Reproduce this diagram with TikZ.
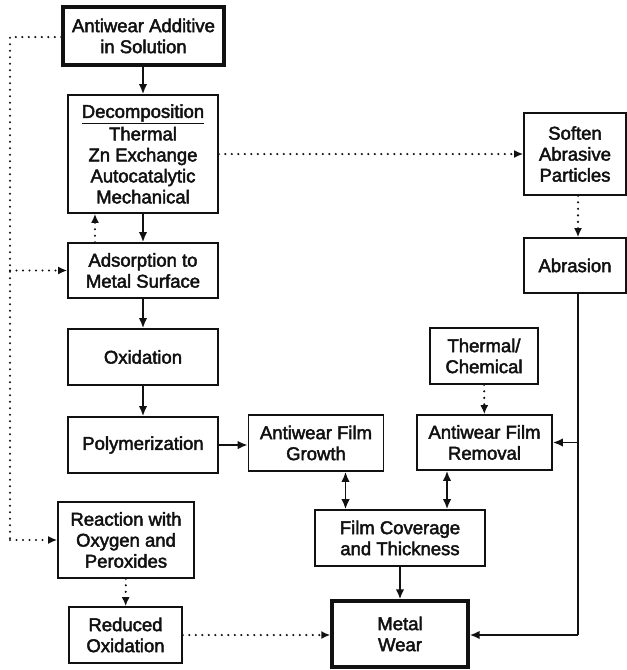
\documentclass[tikz,border=0pt]{standalone}
\usepackage{fontspec}
\setmainfont{Liberation Sans}[BoldFont=Liberation Sans, BoldFeatures={FakeBold=2.4}]
\usepackage{xcolor}
\usetikzlibrary{arrows.meta}
\definecolor{vblack}{HTML}{111111}

\tikzset{
	vbox/.style={draw=vblack, line width=1.6pt, align=center, inner sep=1pt, text=vblack, font=\fontsize{18.5}{21}\selectfont\bfseries},
	vheavy/.style={vbox, line width=3.4pt},
	vsolid/.style={color=vblack, line width=1.9pt, -{Latex[length=10pt,width=8.5pt]}},
	vboth/.style={color=vblack, line width=1.9pt, {Latex[length=10pt,width=8.5pt]}-{Latex[length=10pt,width=8.5pt]}},
	vline/.style={color=vblack, line width=1.9pt},
	vdot/.style={color=vblack, line width=2.4pt, line cap=round, dash pattern=on 0pt off 6.5pt, -{Latex[length=9pt,width=8pt]}},
	vdotline/.style={color=vblack, line width=2.4pt, line cap=round, dash pattern=on 0pt off 6.5pt},
}

\begin{document}
\begin{tikzpicture}[x=1pt, y=-1pt]
		\useasboundingbox (0,0) rectangle (627,670);
		\node[vheavy, minimum width=161pt, minimum height=58pt] (add) at (143.5,36) {Antiwear Additive\\in Solution};
		\node[vbox, minimum width=150pt, minimum height=118pt] (dec) at (143,154) {\underline{Decomposition}\\[1.5pt]Thermal\\Zn Exchange\\Autocatalytic\\Mechanical};
		\node[vbox, minimum width=150pt, minimum height=55pt] (ads) at (143,270.5) {Adsorption to\\Metal Surface};
		\node[vbox, minimum width=150pt, minimum height=56pt] (oxi) at (143,357) {Oxidation};
		\node[vbox, minimum width=150pt, minimum height=56pt] (pol) at (143,445) {Polymerization};
		\node[vbox, minimum width=135pt, minimum height=56pt] (gro) at (316,443) {Antiwear Film\\Growth};
		\node[vbox, minimum width=136pt, minimum height=76pt] (rea) at (126,540) {Reaction with\\Oxygen and\\Peroxides};
		\node[vbox, minimum width=113pt, minimum height=56pt] (red) at (125.5,635) {Reduced\\Oxidation};
		\node[vbox, minimum width=108pt, minimum height=56pt] (the) at (484,356) {Thermal/\\Chemical};
		\node[vbox, minimum width=135pt, minimum height=55pt] (rem) at (484.5,442.5) {Antiwear Film\\Removal};
		\node[vbox, minimum width=170pt, minimum height=56pt] (cov) at (400,538) {Film Coverage\\and Thickness};
		\node[vheavy, minimum width=136pt, minimum height=66pt] (wea) at (400,634) {Metal\\Wear};
		\node[vbox, minimum width=102pt, minimum height=82pt] (sof) at (575,154) {Soften\\Abrasive\\Particles};
		\node[vbox, minimum width=102pt, minimum height=55pt] (abr) at (575,265.5) {Abrasion};
		\coordinate (lt) at (10,37);
		\coordinate (lb) at (10,540);
		\coordinate (rb) at (578,635);
		\draw[vsolid] (add.south -| dec.north) -- (dec.north);
		\draw[vsolid] (dec) -- (ads);
		\draw[vsolid] (ads) -- (oxi);
		\draw[vsolid] (oxi) -- (pol);
		\draw[vsolid] (pol.east) -- (pol.east -| gro.west);
		\draw[vsolid] (cov) -- (wea);
		\draw[vboth] ([xshift=29.5pt]gro.south) -- ([xshift=29.5pt]gro.south |- cov.north);
		\draw[vboth] ([xshift=-37.5pt]rem.south) -- ([xshift=-37.5pt]rem.south |- cov.north);
		\draw[vdot] ([xshift=-48pt]ads.north) -- ([xshift=-48pt]ads.north |- dec.south);
		\draw[vdotline] (lt -| add.west) -- (lt) -- (lb);
		\draw[vdot] (lb) -- (rea.west);
		\draw[vdot] (lt |- ads.west) -- (ads.west);
		\draw[vdot] (dec.east) -- (sof.west);
		\draw[vdot] ([xshift=3pt]sof.south) -- ([xshift=3pt]abr.north);
		\draw[vdot] (the) -- (rem);
		\draw[vdot] (rea) -- (red);
		\draw[vdot] (red.east) -- (red.east -| wea.west);
		\draw[vline] ([xshift=3pt]abr.south) -- (rb);
		\draw[vsolid] (rb) -- (rb -| wea.east);
		\draw[vsolid] (rb |- rem.east) -- (rem.east);
	\end{tikzpicture}
\end{document}
